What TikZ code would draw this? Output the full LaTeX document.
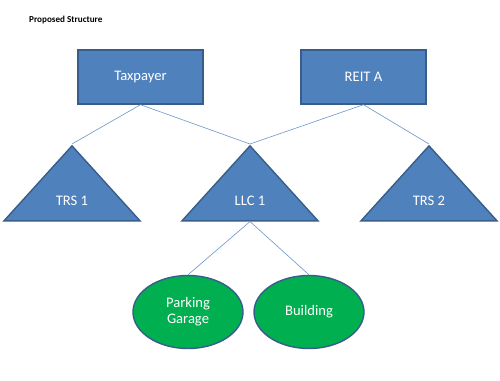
\documentclass[tikz,border=0pt]{standalone}
\usepackage{fontspec}
\setmainfont{Carlito}
\usetikzlibrary{positioning,shapes.geometric}
\definecolor{BoxBlue}{HTML}{4F81BD}
\definecolor{EdgeBlue}{HTML}{385D8A}
\definecolor{LinkBlue}{HTML}{4A7EBB}
\definecolor{LeafGreen}{HTML}{00B050}

\begin{document}
\begin{tikzpicture}[
    x=0.2mm, y=-0.2mm,
    font=\fontsize{8.3}{10}\selectfont,
    owner/.style={
        draw=EdgeBlue,
        line width=0.8pt,
        fill=BoxBlue,
        text=white,
        minimum width=25mm,
        minimum height=10.8mm,
        inner sep=0pt
    },
    entity/.style={
        isosceles triangle,
        shape border rotate=90,
        isosceles triangle stretches,
        draw=EdgeBlue,
        line width=0.8pt,
        fill=BoxBlue,
        minimum width=27.2mm,
        minimum height=15mm,
        inner sep=0pt,
        anchor=apex
    },
    asset/.style={
        ellipse,
        draw=EdgeBlue,
        line width=0.8pt,
        fill=LeafGreen,
        text=white,
        align=center,
        font=\fontsize{8.3}{9}\selectfont,
        minimum width=22mm,
        minimum height=14.6mm,
        inner sep=0pt
    },
    tag/.style={text=white},
    link/.style={draw=LinkBlue!80, line width=0.35pt}
]
\useasboundingbox (0,0) rectangle (500,380);

\node[anchor=west, font=\fontsize{5.2}{6}\selectfont\bfseries] (title) at (23,20) {Proposed Structure};

\node[owner] (tax) at (140.5,77) {Taxpayer};
\node[owner] (reit) at (363.5,77) {REIT A};

\node[entity] (trs1) at (72,144) {};
\node[entity] (llc1) at (250,144) {};
\node[entity] (trs2) at (429,144) {};
\node[tag] (trs1txt) at (72,201) {TRS 1};
\node[tag] (llc1txt) at (250,201) {LLC 1};
\node[tag] (trs2txt) at (429,201) {TRS 2};

\node[asset] (garage) at (188,312) {Parking\\Garage};
\node[asset] (bldg) at (309,312) {Building};

\draw[link] (tax.south) -- (trs1.apex);
\draw[link] (tax.south) -- (llc1.apex);
\draw[link] (reit.south) -- (llc1.apex);
\draw[link] (reit.south) -- (trs2.apex);
\draw[link] (llc1.lower side) -- (garage.north);
\draw[link] (llc1.lower side) -- (bldg.north);

\end{tikzpicture}
\end{document}
